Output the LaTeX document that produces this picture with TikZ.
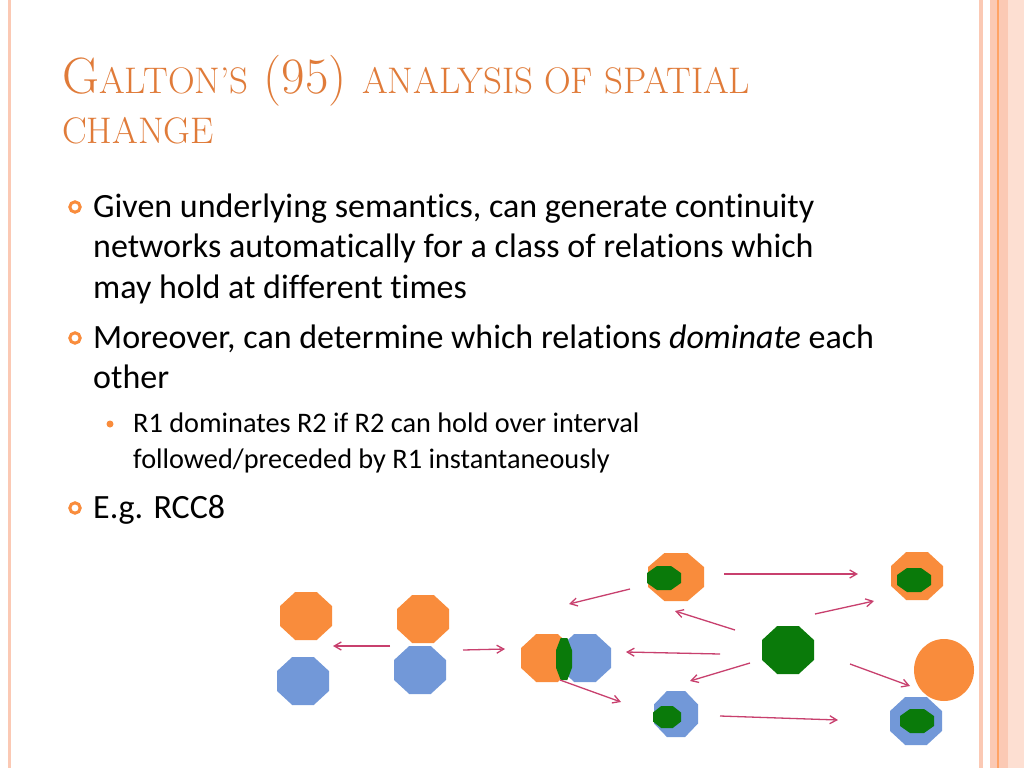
\documentclass[tikz,border=0pt]{standalone}
\usepackage{fontspec}
\setmainfont{Carlito}[Ligatures={NoCommon,NoContextual}]
\newfontfamily\titlefont{Latin Modern Roman}
\usetikzlibrary{arrows.meta}
\definecolor{org}{HTML}{F98C3C}
\definecolor{blu}{HTML}{7298D8}
\definecolor{grn}{HTML}{0A7A0A}
\definecolor{arr}{HTML}{C8406E}
\definecolor{ttl}{HTML}{E07B39}
\definecolor{brd}{HTML}{FBC9B4}
\newcommand{\octa}[5]{\fill[#5,shift={(#1,#2)},xscale=#3/2,yscale=#4/2] (1,0.414)--(0.414,1)--(-0.414,1)--(-1,0.414)--(-1,-0.414)--(-0.414,-1)--(0.414,-1)--(1,-0.414)--cycle;}
\newcommand{\sm}[1]{{\fontsize{37}{42}\selectfont #1}}
\tikzset{conn/.style={draw=arr,line width=1.3pt,-{Straight Barb[length=7pt,width=8pt]}},
 body/.style={anchor=base west,inner sep=0pt,font=\fontsize{34}{40}\selectfont},
 sub/.style={anchor=base west,inner sep=0pt,font=\fontsize{28.3}{34}\selectfont},
 ttlstyle/.style={anchor=base west,inner sep=0pt,text=ttl,font=\titlefont\fontsize{51}{56}\selectfont}}
\begin{document}
\begin{tikzpicture}[x=1pt,y=-1pt]
\useasboundingbox (0,0) rectangle (1024,768);
\fill[white] (0,0) rectangle (1024,768);
% borders
\fill[brd] (8,0) rectangle (11,768);
\fill[brd] (979,0) rectangle (983,768);
\fill[brd] (990,0) rectangle (1024,768);
\fill[orange!80!red!60] (997,0) rectangle (999,768);
\fill[brd!60] (1008,0) rectangle (1024,768);
% title
\node[ttlstyle] (t1) at (62,93) {G\sm{ALTON’S} (95) \sm{ANALYSIS OF SPATIAL}};
\node[ttlstyle] (t2) at (62,143) {\sm{CHANGE}};
% bullets
\draw[org,line width=3pt] (75,207) circle (5.2);
\draw[org,line width=3pt] (75,338) circle (5.2);
\draw[org,line width=3pt] (75,508) circle (5.2);
\fill[org] (110,424) circle (3.5);
\node[body] (l1) at (93,217) {Given underlying semantics, can generate continuity};
\node[body] (l2) at (93,257) {networks automatically for a class of relations which};
\node[body] (l3) at (93,298) {may hold at different times};
\node[body] (l4) at (93,348) {Moreover, can determine which relations \textit{dominate} each};
\node[body] (l5) at (93,388) {other};
\node[sub] (l6) at (133,432) {R1 dominates R2 if R2 can hold over interval};
\node[sub] (l7) at (133,468) {followed/preceded by R1 instantaneously};
\node[body] (l8) at (93,518) {E.g. RCC8};
% shapes
\octa{306}{616}{52}{48}{org}
\octa{303}{681}{52}{48}{blu}
\octa{423}{619}{52}{48}{org}
\octa{420}{670}{52}{48}{blu}
\octa{547}{658}{52}{48}{org}
\octa{585}{658}{52}{48}{blu}
\octa{564}{659}{16}{42}{grn}
\octa{676}{577}{56}{48}{org}
\octa{664}{578}{34}{24}{grn}
\octa{917}{576}{52}{48}{org}
\octa{914}{580}{34}{24}{grn}
\octa{788}{650}{52}{48}{grn}
\fill[org] (944,670) ellipse (30 and 31);
\octa{676}{714}{44}{46}{blu}
\octa{667}{717}{28}{22}{grn}
\octa{916}{721}{52}{48}{blu}
\octa{917}{721}{34}{24}{grn}
% connectors
\coordinate (a1) at (390,646); \coordinate (b1) at (333,646);
\coordinate (a2) at (463,650); \coordinate (b2) at (505,649);
\coordinate (a3) at (630,589); \coordinate (b3) at (569,604);
\coordinate (a4) at (724,574); \coordinate (b4) at (858,574);
\coordinate (a5) at (815,614); \coordinate (b5) at (874,601);
\coordinate (a6) at (735,630); \coordinate (b6) at (675,611);
\coordinate (a7) at (720,654); \coordinate (b7) at (626,652);
\coordinate (a8) at (750,663); \coordinate (b8) at (690,681);
\coordinate (a9) at (560,680); \coordinate (b9) at (621,702);
\coordinate (a10) at (850,664); \coordinate (b10) at (910,686);
\coordinate (a11) at (720,716); \coordinate (b11) at (838,720);
\foreach \i in {1,...,11} \draw[conn] (a\i) -- (b\i);
\end{tikzpicture}
\end{document}
